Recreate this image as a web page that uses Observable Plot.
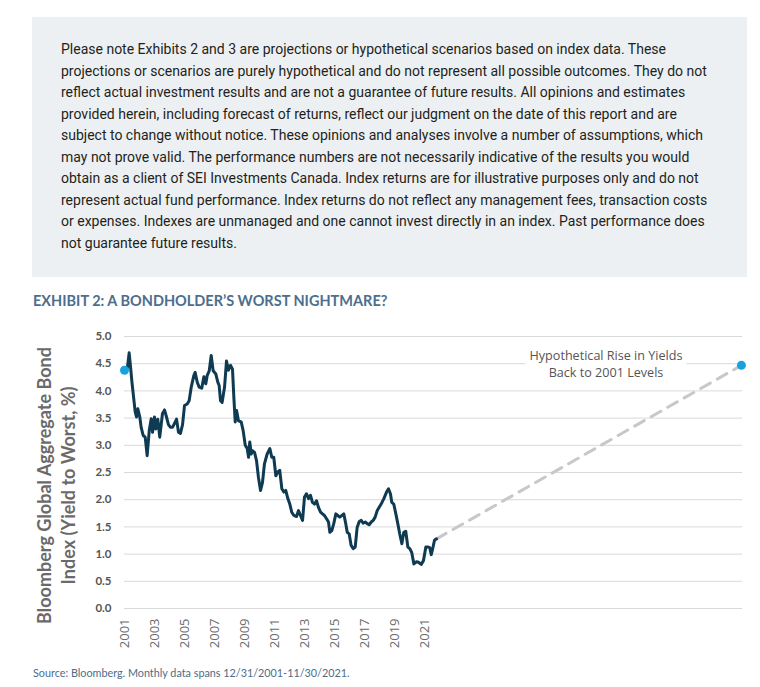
<!DOCTYPE html>
<html>
<head>
<meta charset="utf-8">
<script src="https://cdn.jsdelivr.net/npm/d3@7"></script>
<script src="https://cdn.jsdelivr.net/npm/@observablehq/plot@0.6"></script>
<style>
  html, body { margin: 0; padding: 0; background: #fff; }
  #page { position: relative; width: 760px; height: 687px; overflow: hidden; }
  #box { position: absolute; left: 32px; top: 17px; width: 715px; height: 260px; background: #edf0f3; }
  #note { position: absolute; left: 61px; top: 39px; font-family: Roboto, sans-serif; font-size: 14px; line-height: 21.5px; color: #231f20; white-space: nowrap; }
  #title { position: absolute; left: 33px; top: 292px; font-family: Lato, sans-serif; font-weight: bold; font-size: 14.5px; line-height: 18px; color: #4d6e8c; }
  #chart { position: absolute; left: 0; top: 318px; }
  #source { position: absolute; left: 33px; top: 665px; font-family: Lato, sans-serif; font-size: 10.8px; line-height: 16px; color: #4c6d8a; }
  g[aria-label="y-axis tick label"] { font-family: Lato, sans-serif; font-weight: bold; font-size: 11.5px; color: #555; }
  g[aria-label="x-axis tick label"] { font-family: "Open Sans", sans-serif; font-size: 13px; color: #6a6a6a; }
</style>
</head>
<body>
<div id="page">
  <div id="box"></div>
  <div id="note"></div>
  <div id="title"></div>
  <div id="chart"></div>
  <div id="source"></div>
</div>
<script>
const noteLines = [
  "Please note Exhibits 2 and 3 are projections or hypothetical scenarios based on index data. These",
  "projections or scenarios are purely hypothetical and do not represent all possible outcomes. They do not",
  "reflect actual investment results and are not a guarantee of future results. All opinions and estimates",
  "provided herein, including forecast of returns, reflect our judgment on the date of this report and are",
  "subject to change without notice. These opinions and analyses involve a number of assumptions, which",
  "may not prove valid. The performance numbers are not necessarily indicative of the results you would",
  "obtain as a client of SEI Investments Canada. Index returns are for illustrative purposes only and do not",
  "represent actual fund performance. Index returns do not reflect any management fees, transaction costs",
  "or expenses. Indexes are unmanaged and one cannot invest directly in an index. Past performance does",
  "not guarantee future results."
];
const titleText = "EXHIBIT 2: A BONDHOLDER\u2019S WORST NIGHTMARE?";
const sourceText = "Source: Bloomberg. Monthly data spans 12/31/2001-11/30/2021.";
const yTitle = "Bloomberg Global Aggregate Bond\nIndex (Yield to Worst, %)";
const annotation = "Hypothetical Rise in Yields\nBack to 2001 Levels";

// Yield to worst (%), by position on the time axis
const years = [
  2001.19, 2001.31, 2001.40, 2001.50, 2001.62, 2001.71, 2001.80, 2001.89, 2002.02, 2002.11,
  2002.25, 2002.38, 2002.51, 2002.65, 2002.78, 2002.87, 2003.00, 2003.09, 2003.22, 2003.35,
  2003.53, 2003.67, 2003.80, 2003.93, 2004.07, 2004.20, 2004.33, 2004.47, 2004.60, 2004.73,
  2004.87, 2005.00, 2005.18, 2005.31, 2005.45, 2005.62, 2005.71, 2005.85, 2005.98, 2006.15,
  2006.29, 2006.42, 2006.51, 2006.65, 2006.78, 2006.91, 2007.09, 2007.22, 2007.31, 2007.40,
  2007.51, 2007.67, 2007.80, 2007.93, 2008.07, 2008.20, 2008.29, 2008.38, 2008.47, 2008.60,
  2008.78, 2008.91, 2009.05, 2009.18, 2009.27, 2009.35, 2009.45, 2009.53, 2009.67, 2009.80,
  2009.93, 2010.07, 2010.20, 2010.33, 2010.51, 2010.69, 2010.82, 2010.95, 2011.09, 2011.22,
  2011.35, 2011.49, 2011.62, 2011.75, 2011.89, 2012.02, 2012.15, 2012.29, 2012.47, 2012.60,
  2012.73, 2012.87, 2013.00, 2013.13, 2013.27, 2013.40, 2013.53, 2013.67, 2013.80, 2013.93,
  2014.07, 2014.20, 2014.33, 2014.47, 2014.60, 2014.69, 2014.82, 2014.95, 2015.09, 2015.22,
  2015.35, 2015.49, 2015.62, 2015.75, 2015.85, 2015.98, 2016.11, 2016.25, 2016.38, 2016.51,
  2016.65, 2016.78, 2016.91, 2017.05, 2017.18, 2017.31, 2017.45, 2017.58, 2017.71, 2017.85,
  2017.98, 2018.11, 2018.29, 2018.47, 2018.60, 2018.73, 2018.82, 2018.95, 2019.09, 2019.22,
  2019.35, 2019.49, 2019.62, 2019.75, 2019.89, 2020.02, 2020.15, 2020.29, 2020.47, 2020.60,
  2020.78, 2020.93, 2021.09, 2021.22, 2021.35, 2021.45, 2021.53, 2021.67, 2021.80
];
const yields = [
  4.42, 4.70, 4.45, 4.15, 3.85, 3.62, 3.52, 3.67, 3.52, 3.33,
  3.18, 3.15, 2.81, 3.27, 3.49, 3.24, 3.52, 3.30, 3.48, 3.15,
  3.58, 3.65, 3.52, 3.38, 3.33, 3.33, 3.40, 3.48, 3.24, 3.22,
  3.38, 3.73, 3.76, 3.82, 4.07, 4.28, 4.34, 4.16, 4.07, 4.05,
  4.26, 4.13, 4.28, 4.37, 4.65, 4.37, 4.31, 4.16, 4.10, 3.82,
  3.79, 4.07, 4.55, 4.38, 4.47, 4.40, 3.88, 3.43, 3.64, 3.45,
  3.43, 3.27, 3.00, 2.94, 2.78, 3.06, 2.84, 2.90, 2.87, 2.72,
  2.41, 2.17, 2.32, 2.66, 2.84, 2.94, 2.78, 2.78, 2.44, 2.51,
  2.54, 2.20, 2.14, 2.17, 2.02, 1.92, 1.77, 1.71, 1.69, 1.80,
  1.71, 1.62, 2.05, 2.11, 2.02, 2.08, 1.95, 1.92, 1.98, 1.86,
  1.77, 1.74, 1.71, 1.65, 1.59, 1.40, 1.43, 1.56, 1.74, 1.71,
  1.68, 1.71, 1.74, 1.56, 1.40, 1.37, 1.16, 1.10, 1.13, 1.49,
  1.60, 1.62, 1.57, 1.59, 1.56, 1.54, 1.59, 1.62, 1.68, 1.80,
  1.86, 1.92, 2.02, 2.14, 2.20, 2.11, 1.95, 1.92, 1.74, 1.56,
  1.37, 1.19, 1.40, 1.42, 1.13, 1.10, 1.03, 0.82, 0.86, 0.85,
  0.81, 0.88, 1.13, 1.13, 1.12, 0.99, 1.08, 1.26, 1.28
];
// Start level (2001) and hypothetical end point
const markerYears = [2001, 2042.13];
const markerYields = [4.38, 4.47];
const annotationYear = 2033.1;
const annotationYield = 4.51;

const xTicks = [2001, 2003, 2005, 2007, 2009, 2011, 2013, 2015, 2017, 2019, 2021];
const yTicks = [0, 0.5, 1, 1.5, 2, 2.5, 3, 3.5, 4, 4.5, 5];

const series = years.map((x, i) => ({x, y: yields[i]}));
const markers = markerYears.map((x, i) => ({x, y: markerYields[i]}));
const projection = [series[series.length - 1], markers[1]];

document.getElementById("note").innerHTML = noteLines.map(l => `<div>${l}</div>`).join("");
document.getElementById("title").textContent = titleText;
document.getElementById("source").textContent = sourceText;

const chart = Plot.plot({
  width: 760,
  height: 340,
  marginTop: 18,
  marginBottom: 50,
  marginLeft: 124,
  marginRight: 18,
  style: {fontFamily: "Lato, sans-serif", background: "transparent", overflow: "visible"},
  x: {type: "linear", domain: [2001, 2042.2]},
  y: {domain: [0, 5]},
  marks: [
    Plot.gridY(yTicks, {stroke: "#d9d9d9", strokeOpacity: 1, strokeWidth: 1}),
    Plot.axisY({ticks: yTicks, tickFormat: d => d.toFixed(1), tickSize: 0, tickPadding: 13, label: null}),
    Plot.axisX({ticks: xTicks, tickFormat: d => String(d), tickRotate: -90, tickSize: 0, tickPadding: 10, label: null}),
    Plot.line(projection, {x: "x", y: "y", stroke: "#c8c8c8", strokeWidth: 3, strokeDasharray: "11,8"}),
    Plot.line(series, {x: "x", y: "y", stroke: "#0e3a52", strokeWidth: 3, strokeLinejoin: "round"}),
    Plot.dot(markers, {x: "x", y: "y", r: 4.5, fill: "#17a2df", stroke: "none"}),
    Plot.text([annotation], {x: annotationYear, y: annotationYield, fill: "#555", fontSize: 12.6, fontFamily: "Open Sans, sans-serif", lineHeight: 1.35, textAnchor: "middle"}),
    Plot.text([yTitle], {frameAnchor: "left", rotate: -90, dx: -69, dy: 13, fontSize: 18, fontWeight: "bold", fill: "#6a6a6a", lineHeight: 1.33, textAnchor: "middle", lineAnchor: "middle"})
  ]
});
document.getElementById("chart").appendChild(chart);

// white backing behind the annotation (knocks out gridline like the original)
for (const t of chart.querySelectorAll("text")) {
  if (t.textContent.startsWith("Hypothetical")) {
    const b = t.getBBox();
    const g = t.parentNode;
    const rect = document.createElementNS("http://www.w3.org/2000/svg", "rect");
    rect.setAttribute("x", b.x - 4);
    rect.setAttribute("y", b.y);
    rect.setAttribute("width", b.width + 8);
    rect.setAttribute("height", b.height);
    rect.setAttribute("fill", "#fff");
    const tr = t.getAttribute("transform");
    if (tr) rect.setAttribute("transform", tr);
    g.insertBefore(rect, t);
  }
}
</script>
</body>
</html>
